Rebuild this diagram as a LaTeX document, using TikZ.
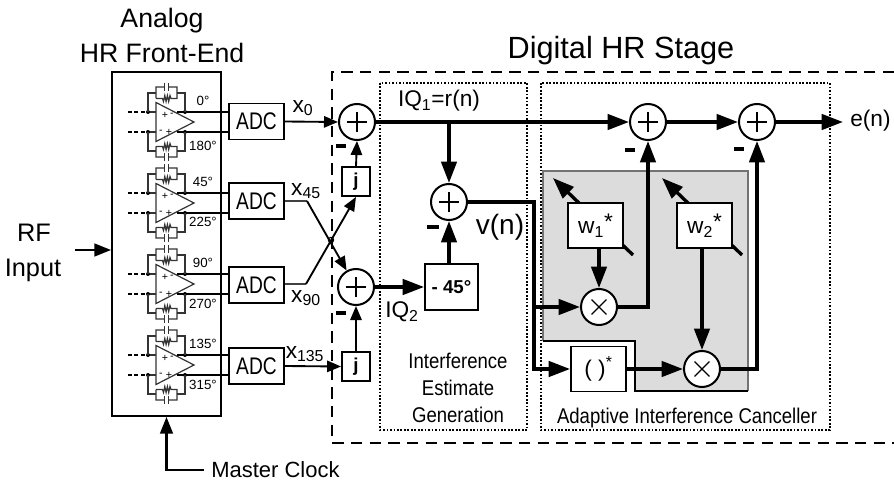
\documentclass[tikz,border=0pt]{standalone}
\usepackage{fontspec}
\setmainfont{Liberation Sans}
\usetikzlibrary{arrows.meta}
\newcommand{\fs}[1]{\fontsize{#1}{#1}\selectfont}
\newcommand{\narrow}[1]{\scalebox{0.87}[1]{#1}}
\definecolor{panelgray}{HTML}{DCDCDC}
\tikzset{
  wire/.style={line width=1.3pt},
  fine/.style={line width=0.9pt,draw=black!80},
  sig/.style={line width=2.5pt,-{Triangle[length=16pt,width=11.5pt]}},
  thinsig/.style={line width=1.4pt,-{Triangle[length=10.5pt,width=8.5pt]}},
  inputsig/.style={line width=1.8pt,-{Triangle[length=12.5pt,width=9.5pt]}},
  box/.style={draw,fill=white,line width=1.4pt,inner sep=0pt},
  adcbox/.style={box,minimum width=41.25pt,minimum height=27pt},
  jbox/.style={box,minimum width=21pt,minimum height=21.75pt,font=\fs{14}\bfseries},
  wbox/.style={box,minimum width=41.25pt,minimum height=33.75pt,font=\fs{17}},
  sumnode/.style={circle,draw,fill=white,line width=1.5pt,minimum size=27pt,inner sep=0pt,
    path picture={\draw[line width=0.9pt,shift={(path picture bounding box.center)}]
      (-7.5pt,0)--(7.5pt,0) (0,-7.5pt)--(0,7.5pt);}},
  multnode/.style={circle,draw,fill=white,line width=1.5pt,minimum size=27pt,inner sep=0pt,
    path picture={\draw[line width=0.9pt,shift={(path picture bounding box.center)}]
      (-5.6pt,-5.6pt)--(5.6pt,5.6pt) (-5.6pt,5.6pt)--(5.6pt,-5.6pt);}},
  minus/.style={fill=black,inner sep=0pt,minimum width=7pt,minimum height=2.8pt},
  bigminus/.style={fill=black,inner sep=0pt,minimum width=9pt,minimum height=3.6pt},
  dot/.style={circle,fill=black,inner sep=0pt,minimum size=3pt},
  dashedbox/.style={line width=1.3pt,dash pattern=on 8.5pt off 5.5pt},
  dottedbox/.style={line width=1.3pt,dash pattern=on 1.3pt off 1.3pt},
}
\begin{document}
\begin{tikzpicture}[x=0.75pt,y=-0.75pt]
  \useasboundingbox (0,0) rectangle (894,485);
  % grey panel
  \fill[panelgray] (543,171) -- (748,171) -- (748,391) -- (635,391) -- (635,341) -- (543,341) -- cycle;
  \draw[line width=0.8pt,black!55] (543,341) -- (543,171) -- (748,171) -- (748,391);
  \draw[line width=0.8pt] (543,341) -- (635,341) -- (635,391) -- (748,391);
  % stage outlines
  \draw[dashedbox] (894,72) -- (332,72) -- (332,443) -- (894,443);
  \draw[dottedbox] (380,83) rectangle (527,430);
  \draw[dottedbox] (541,83) rectangle (830,430);
  % titles
  \node[font=\fs{20}] (analog) at (162,21) {Analog};
  \node[font=\fs{20}] (hrfront) at (162,53) {HR Front-End};
  \node[font=\fs{23}] (hrstage) at (621,51) {Digital HR Stage};
  \node[font=\fs{19}] (rf) at (34,233) {RF};
  \node[font=\fs{19}] (input) at (33,270) {Input};
  \node[draw,line width=1.4pt,minimum width=81.75pt,minimum height=258pt,inner sep=0pt] (frontend) at (166.5,244) {};
  \node[font=\fs{16.5},anchor=west,inner sep=0pt] (clock) at (211,470) {Master Clock};
  \coordinate (rfin) at (75,250);
  \coordinate (clkin) at (204,470);
  \draw[inputsig] (rfin) -- (rfin -| frontend.west);
  \draw[inputsig] (clkin) -| (frontend.south);
  % amplifier rows
  \foreach \i/\c/\a/\u/\l/\m in {1/122/121.5/0/180/146,2/203/201/45/225/222,3/284/285/90/270/304,4/365/366/135/315/385}{
    \node[adcbox,font=\fs{18}] (adc\i) at (256.5,\a) {\scalebox{0.8}[1]{ADC}};
    \node[font=\fs{10},inner sep=0pt] (up\i) at (203,\c-21.5) {\u°};
    \node[font=\fs{10},inner sep=0pt] (lo\i) at (203,\m) {\l°};
    \begin{scope}[shift={(0,\c)}]
      \draw[wire,dash pattern=on 3pt off 1.8pt] (128,-10) -- (148,-10) (128,10) -- (148,10);
      \draw[fine] (148,-10) -- (156,-10) (148,10) -- (156,10);
      \draw[fine,fill=white] (156,-19.5) -- (194,0) -- (156,19.5) -- cycle;
      \coordinate (outa\i) at (177,-10);
      \coordinate (outb\i) at (177,10);
      \draw[wire] (outa\i) -- (outa\i -| adc\i.west);
      \draw[wire] (outb\i) -- (outb\i -| adc\i.west);
      \node[dot] at (148,-10) {};
      \node[dot] at (148,10) {};
      \node[dot] at (185,-10) {};
      \node[dot] at (185,10) {};
      \node[font=\fs{8},inner sep=0pt] at (165,-7) {+};
      \node[font=\fs{8},inner sep=0pt] at (172,-7) {-};
      \node[font=\fs{8},inner sep=0pt] at (161,10) {-};
      \node[font=\fs{8},inner sep=0pt] at (169,10) {+};
      \foreach \s/\p/\q in {-1/29/23.5,1/29/24.5}{
        \draw[fine] (148,\s*10) -- (148,\s*\p) -- (156,\s*\p) (177,\s*\p) -- (185,\s*\p) -- (185,\s*10);
        \draw[fine] (156,\s*\q) -- (156,\s*35) -- (164.5,\s*35) (168.5,\s*35) -- (177,\s*35) -- (177,\s*\q) -- (171,\s*\q)
          -- (170,\s*\q-3) -- (168.7,\s*\q+3) -- (167.4,\s*\q-3) -- (166.1,\s*\q+3) -- (164.8,\s*\q-3) -- (163.5,\s*\q+3) -- (162.5,\s*\q) -- (156,\s*\q);
        \draw[fine] (164.5,\s*35-4) -- (164.5,\s*35+4) (168.5,\s*35-4) -- (168.5,\s*35+4);
      }
    \end{scope}
  }
  % digital stage nodes
  \node[sumnode] (sum1) at (357,122) {};
  \node[sumnode] (sum2) at (356,287) {};
  \node[sumnode] (sum3) at (449,202) {};
  \node[sumnode] (sum4) at (648,122) {};
  \node[sumnode] (sum5) at (757,122) {};
  \node[jbox] (j1) at (356,181.5) {j};
  \node[jbox] (j2) at (356,366.5) {j};
  \node[box,minimum width=39.75pt,minimum height=34.5pt,font=\fs{14}\bfseries] (shift45) at (451.5,287) {- 45°};
  \coordinate (wtaila) at (633,255);
  \coordinate (wheada) at (553,178);
  \coordinate (wtailb) at (742,255);
  \coordinate (wheadb) at (662,178);
  \draw[sig] (wtaila) -- (wheada);
  \draw[sig] (wtailb) -- (wheadb);
  \node[wbox] (w1) at (595.5,225.5) {w\textsubscript{1}\raisebox{0.2em}{*}};
  \node[wbox] (w2) at (704.5,225.5) {w\textsubscript{2}\raisebox{0.2em}{*}};
  \node[multnode] (mult1) at (599,307) {};
  \node[multnode] (mult2) at (702,369) {};
  \node[wbox] (conj) at (598.5,369) {( )\textsuperscript{*}};
  % labels
  \node[font=\fs{17},inner sep=0pt] (x0) at (303,108) {x\textsubscript{0}};
  \node[font=\fs{17},inner sep=0pt] (x45) at (306,191) {x\textsubscript{45}};
  \node[font=\fs{17},inner sep=0pt] (x90) at (306,298) {x\textsubscript{90}};
  \node[font=\fs{17},inner sep=0pt] (x135) at (305,354) {x\textsubscript{135}};
  \node[font=\fs{17},inner sep=0pt] (iq1) at (439,101) {IQ\textsubscript{1}=r(n)};
  \node[font=\fs{17},inner sep=0pt] (iq2) at (402,312) {IQ\textsubscript{2}};
  \node[font=\fs{21},inner sep=0pt] (vn) at (500,227) {v(n)};
  \node[font=\fs{17},anchor=west,inner sep=0pt] (en) at (850,121) {e(n)};
  \node[font=\fs{16},inner sep=0pt] (est1) at (458,361) {\narrow{Interference}};
  \node[font=\fs{16},inner sep=0pt] (est2) at (458,388) {\narrow{Estimate}};
  \node[font=\fs{16},inner sep=0pt] (est3) at (458,415) {\narrow{Generation}};
  \node[font=\fs{16},inner sep=0pt] (canc) at (687,418) {\narrow{Adaptive Interference Canceller}};
  \node[minus] (m1) at (341,146) {};
  \node[minus] (m2) at (341,313) {};
  \node[bigminus] (m3) at (433,227) {};
  \node[minus,minimum width=8pt] (m4) at (630,150) {};
  \node[minus,minimum width=8pt] (m5) at (739,149) {};
  % connectors
  \draw[thinsig] (adc1.east) -- (sum1.west);
  \draw[thinsig] (adc4.east) -- (j2.west);
  \draw[thinsig] (j1.north) -- (sum1.south);
  \draw[thinsig] (j2.north) -- (sum2.south);
  \coordinate (benda) at (307,201);
  \coordinate (bendb) at (306,284);
  \draw[wire,black!75] (adc2.east |- benda) -- (benda);
  \draw[wire,black!75] (adc3.east |- bendb) -- (bendb);
  \draw[thinsig] (benda) -- (sum2);
  \draw[thinsig] (bendb) -- (j1.south);
  \node[circle,draw,line width=0.8pt,minimum size=4pt,inner sep=0pt] (hop) at (331,240) {};
  \draw[sig] (sum1.east) -- (sum4.west);
  \coordinate (taper) at (449,122);
  \draw[sig] (taper) -- (sum3.north);
  \draw[sig] (sum4.east) -- (sum5.west);
  \coordinate (enend) at (843,122);
  \draw[sig] (sum5.east) -- (enend);
  \draw[sig] (sum2.east) -- (shift45.west);
  \draw[sig] (sum3 |- shift45.north) -- (sum3.south);
  \coordinate (vtop) at (534,202);
  \draw[sig] (sum3.east) -- (vtop) |- (conj.west);
  \draw[sig] (vtop |- mult1.west) -- (mult1.west);
  \draw[sig] (w1.south -| mult1) -- (mult1.north);
  \draw[sig] (w2.south -| mult2) -- (mult2.north);
  \draw[sig] (conj.east) -- (mult2.west);
  \draw[sig] (mult1.east) -| (sum4.south);
  \draw[sig] (mult2.east) -| (sum5.south);
\end{tikzpicture}
\end{document}
